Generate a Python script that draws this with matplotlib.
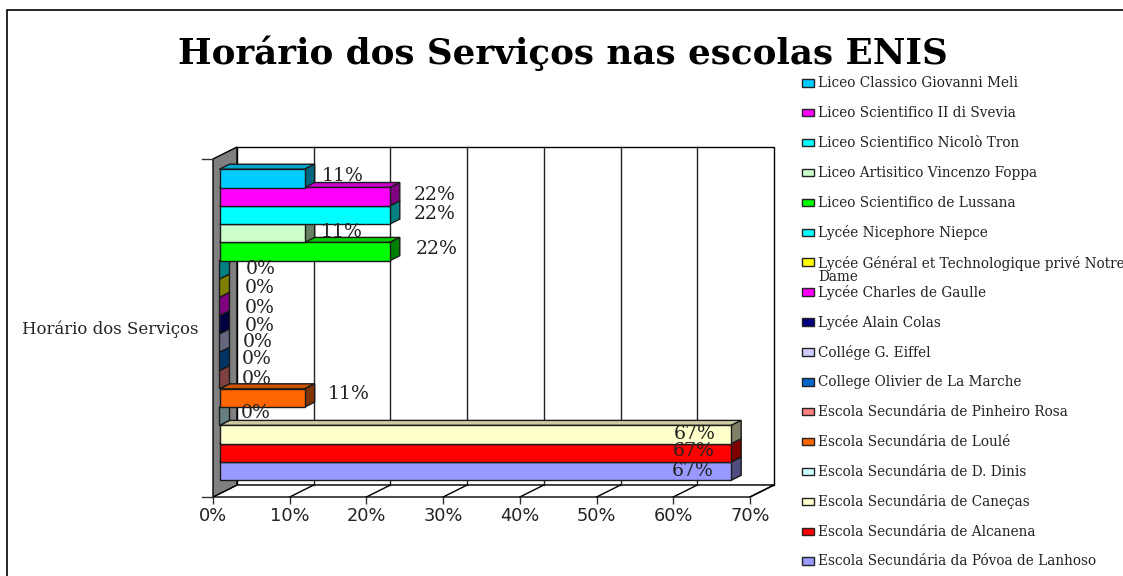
import matplotlib
matplotlib.use("Agg")
import matplotlib.pyplot as plt
from matplotlib.patches import Polygon, Rectangle

# Values
schools = [
    "Liceo Classico Giovanni Meli",
    "Liceo Scientifico II di Svevia",
    "Liceo Scientifico Nicolò Tron",
    "Liceo Artisitico Vincenzo Foppa",
    "Liceo Scientifico de Lussana",
    "Lycée Nicephore Niepce",
    "Lycée Général et Technologique privé Notre\nDame",
    "Lycée Charles de Gaulle",
    "Lycée Alain Colas",
    "Collége G. Eiffel",
    "College Olivier de La Marche",
    "Escola Secundária de Pinheiro Rosa",
    "Escola Secundária de Loulé",
    "Escola Secundária de D. Dinis",
    "Escola Secundária de Caneças",
    "Escola Secundária de Alcanena",
    "Escola Secundária da Póvoa de Lanhoso",
]
values = [11.1, 22.2, 22.2, 11.1, 22.2, 0, 0, 0, 0, 0, 0, 0, 11.1, 0, 66.7, 66.7, 66.7]
value_labels = ["11%", "22%", "22%", "11%", "22%", "0%", "0%", "0%", "0%", "0%", "0%", "0%",
                "11%", "0%", "67%", "67%", "67%"]
colors = ["#00CCFF", "#FF00FF", "#00FFFF", "#CCFFCC", "#00FF00", "#00FFFF", "#FFFF00", "#FF00FF",
          "#000080", "#CCCCFF", "#0066CC", "#FF8080", "#FF6600", "#CCFFFF", "#FFFFCC", "#FF0000",
          "#9999FF"]
x_ticks = [0, 10, 20, 30, 40, 50, 60, 70]

W, H = 1123, 576
SERIF = "DejaVu Serif"

# Label centres in the original do not follow a rule, so they are nudged by hand (px)
label_nudge = [(38, -2), (45, -2), (45, -1), (37, -1), (47, -3), (41, -1), (40, 0), (40, 2), (40, 1),
               (38, -1), (37, -2), (37, -1), (44, -4), (36, -3), (-36, -1), (-37, -2), (-38, 0)]


def blend(col, f):
    r, g, b = matplotlib.colors.to_rgb(col)
    return (r * f, g * f, b * f)


fig = plt.figure(figsize=(W / 100, H / 100), dpi=100)
fig.patch.set_facecolor("white")


def px_rect(x0, y0, x1, y1):
    return [x0 / W, 1 - y1 / H, (x1 - x0) / W, (y1 - y0) / H]


# overlay for frame, title and legend, in pixel coordinates
bg = fig.add_axes([0, 0, 1, 1])
bg.set_xlim(0, W)
bg.set_ylim(H, 0)
bg.axis("off")
bg.add_patch(Rectangle((7, 10), 1200, 600, fc="white", ec="black", lw=1.2))

# front plane of the 3D box
ax = fig.add_axes(px_rect(213, 159, 750, 497))
n = len(values)
unit = 18.3  # px per category
margin = (338 / unit - n) / 2
ax.set_xlim(0, 70)
ax.set_ylim(n - 0.5 + margin, -0.5 - margin)
ax.patch.set_alpha(0)
for s in ax.spines.values():
    s.set_visible(False)
ax.set_yticks([])
ax.set_xticks(x_ticks)
ax.set_xticklabels([f"{t}%" for t in x_ticks], fontsize=12.8, family="DejaVu Sans", color="#222222")
ax.tick_params(axis="x", length=5, width=1, color="#333333", pad=2)

px_x = 70 / 537
px_y = 1 / unit
dx = 24 * px_x
dy = -12 * px_y
ytop, ybot = ax.get_ylim()[1], ax.get_ylim()[0]

# back wall, floor and left wall
ax.add_patch(Polygon([(dx, ytop + dy), (70 + dx, ytop + dy), (70 + dx, ybot + dy), (dx, ybot + dy)],
                     closed=True, fc="white", ec="black", lw=1, clip_on=False, zorder=1))
ax.add_patch(Polygon([(0, ybot), (70, ybot), (70 + dx, ybot + dy), (dx, ybot + dy)],
                     closed=True, fc="white", ec="black", lw=1, clip_on=False, zorder=1))
ax.add_patch(Polygon([(0, ytop), (dx, ytop + dy), (dx, ybot + dy), (0, ybot)],
                     closed=True, fc="#808080", ec="black", lw=1, clip_on=False, zorder=2))
for t in x_ticks[1:-1]:
    ax.plot([t + dx, t + dx], [ytop + dy, ybot + dy], color="#222222", lw=1, zorder=1.5, clip_on=False)
for t in x_ticks[1:]:
    ax.plot([t, t + dx], [ybot, ybot + dy], color="black", lw=1, zorder=1.5, clip_on=False)
# category axis ticks sticking out of the wall
for yy in (ytop, ybot):
    ax.plot([-11 * px_x, 0], [yy, yy], color="#333333", lw=1, clip_on=False, zorder=2)

# 3D bars, the lower ones first so that upper bars cover their top faces
bar_dx = 10 * px_x
bar_dy = -5 * px_y
off_x = 6.5 * px_x
off_y = -3.25 * px_y
for i, (v, col) in enumerate(zip(values, colors)):
    x0 = off_x
    x1 = off_x + v
    y0 = i - 0.5 + off_y
    y1 = i + 0.5 + off_y
    z = 3 + n - i
    edge = "#1a1a1a"
    ax.add_patch(Polygon([(x0, y0), (x1, y0), (x1 + bar_dx, y0 + bar_dy), (x0 + bar_dx, y0 + bar_dy)],
                         closed=True, fc=blend(col, 0.8), ec=edge, lw=1, zorder=z, clip_on=False))
    ax.add_patch(Polygon([(x1, y0), (x1 + bar_dx, y0 + bar_dy), (x1 + bar_dx, y1 + bar_dy), (x1, y1)],
                         closed=True, fc=blend(col, 0.5), ec=edge, lw=1, zorder=z, clip_on=False))
    if v > 0:
        ax.add_patch(Rectangle((x0, y0), v, 1, fc=col, ec=edge, lw=1, zorder=z, clip_on=False))

for i, (v, lab) in enumerate(zip(values, value_labels)):
    ax.annotate(lab, (off_x + v, i + off_y), xytext=(label_nudge[i][0] * 0.72, -label_nudge[i][1] * 0.72),
                textcoords="offset points", ha="center", va="center", fontsize=13.6,
                family=SERIF, color="#222222", zorder=40, annotation_clip=False)

bg.text(562.5, 53, "Horário dos Serviços nas escolas ENIS", ha="center", va="center",
        fontsize=25.7, family=SERIF, fontweight="bold", color="black")
bg.text(110, 329, "Horário dos Serviços", ha="center", va="center", fontsize=11.9, family=SERIF, color="#222222")

# legend
leg_y = 83
for i, (name, col) in enumerate(zip(schools, colors)):
    y = leg_y + i * 29.9
    bg.add_patch(Rectangle((802, y - 4), 12, 7.5, fc=col, ec="#222222", lw=1))
    if "\n" in name:
        bg.text(818.5, y - 6, name, ha="left", va="top", fontsize=9.85, family=SERIF,
                color="#222222", linespacing=0.85)
    else:
        bg.text(818.5, y, name, ha="left", va="center", fontsize=9.85, family=SERIF, color="#222222")

fig.savefig("out.png", dpi=100)
